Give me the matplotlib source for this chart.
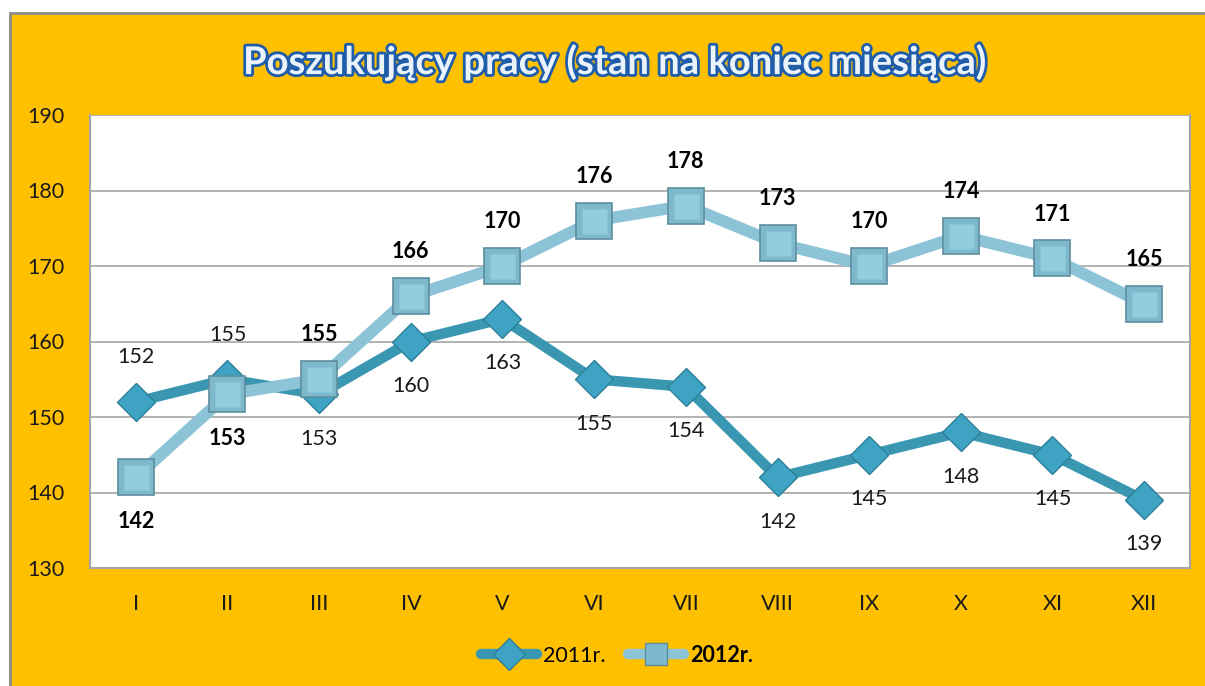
import matplotlib
matplotlib.use("Agg")
import matplotlib.pyplot as plt
import matplotlib.patheffects as pe
from matplotlib.patches import Rectangle
from matplotlib.lines import Line2D

months = ["I", "II", "III", "IV", "V", "VI", "VII", "VIII", "IX", "X", "XI", "XII"]
y2011 = [152, 155, 153, 160, 163, 155, 154, 142, 145, 148, 145, 139]
y2012 = [142, 153, 155, 166, 170, 176, 178, 173, 170, 174, 171, 165]
yticks = [130, 140, 150, 160, 170, 180, 190]
title = "Poszukujący pracy (stan na koniec miesiąca)"
labels = ["2011r.", "2012r."]
# label placement: +1 above, -1 below
pos2011 = [1, 1, -1, -1, -1, -1, -1, -1, -1, -1, -1, -1]
pos2012 = [-1, -1, 1, 1, 1, 1, 1, 1, 1, 1, 1, 1]

plt.rcParams['font.family'] = ['Lato', 'DejaVu Sans']

W, H = 1205, 686
fig = plt.figure(figsize=(W / 100, H / 100), dpi=100)
fig.patch.set_facecolor("white")

# yellow chart area with gray border
bg = Rectangle((10 / W, -0.01), 1.01 - 10 / W, 1.01 - 13 / H, transform=fig.transFigure,
               facecolor="#FFC000", edgecolor="#8C8C8C", linewidth=2, zorder=-10)
fig.patches.append(bg)

ax = fig.add_axes([90 / W, 1 - 568 / H, 1100 / W, 453 / H])
ax.set_zorder(1)
ax.set_facecolor("white")
x = list(range(len(months)))

c11_line = "#3A97B1"
c11_mark = "#3FA3C4"
c12_line = "#8CC3D6"
c12_mark = "#7DB8CC"

ax.plot(x, y2011, color=c11_line, linewidth=7.5, solid_capstyle="round",
        marker="D", markersize=19, markerfacecolor=c11_mark,
        markeredgecolor="#2C7F98", markeredgewidth=1.0, zorder=3)
ax.plot(x, y2012, color=c12_line, linewidth=8.5, solid_capstyle="round",
        marker="s", markersize=26, markerfacecolor=c12_mark,
        markeredgecolor="#5E8E9E", markeredgewidth=1.2, zorder=4)
# bevel highlight for squares
ax.plot(x, y2012, linestyle="none", marker="s", markersize=18,
        markerfacecolor="#92CCDF", markeredgecolor="none", zorder=5)

for xi, v, p in zip(x, y2011, pos2011):
    ax.annotate(str(v), (xi, v), xytext=(0, 32 * p), textcoords="offset points",
                ha="center", va="center", fontsize=15.5, color="#1A1A1A", zorder=6)
for xi, v, p in zip(x, y2012, pos2012):
    ax.annotate(str(v), (xi, v), xytext=(0, 32 * p), textcoords="offset points",
                ha="center", va="center", fontsize=15.5, fontweight="bold",
                color="#000000", zorder=6)

ax.set_xlim(-0.5, len(months) - 0.5)
ax.set_ylim(130, 190)
ax.set_yticks(yticks)
ax.set_yticklabels([str(t) for t in yticks], fontsize=15.5, color="#1A1A1A")
ax.set_xticks(x)
ax.set_xticklabels(months, fontsize=15.5, color="#1A1A1A")
ax.tick_params(axis="both", length=0)
ax.tick_params(axis="x", pad=19)
for lab in ax.get_yticklabels():
    lab.set_horizontalalignment("left")
ax.tick_params(axis="y", pad=45)
ax.grid(axis="y", color="#A6A6A6", linewidth=1.2)
ax.set_axisbelow(True)
for s in ["left", "bottom", "right"]:
    ax.spines[s].set_color("#A6A6A6")
    ax.spines[s].set_linewidth(1.5)
ax.spines["top"].set_visible(False)

fig.text(615 / W, 1 - 62 / H, title, ha="center", va="center", fontsize=27.5,
         fontweight="bold", color="#EAF2FA",
         path_effects=[pe.withStroke(linewidth=4, foreground="#1F5DAA")])

h1 = Line2D([], [], color=c11_line, linewidth=7.5, solid_capstyle="round",
            marker="D", markersize=16, markerfacecolor=c11_mark,
            markeredgecolor="#2C7F98")
h2 = Line2D([], [], color=c12_line, linewidth=7.5, solid_capstyle="round",
            marker="s", markersize=16, markerfacecolor=c12_mark,
            markeredgecolor="#5E8E9E")
leg = fig.legend([h1, h2], labels, loc="center", bbox_to_anchor=(617 / W, 1 - 655 / H),
                 ncol=2, frameon=False, fontsize=15.5, handlelength=2.6,
                 columnspacing=1.0, handletextpad=0.3)
leg.get_texts()[1].set_fontweight("bold")

fig.savefig("out.png", dpi=100, facecolor=fig.get_facecolor())
